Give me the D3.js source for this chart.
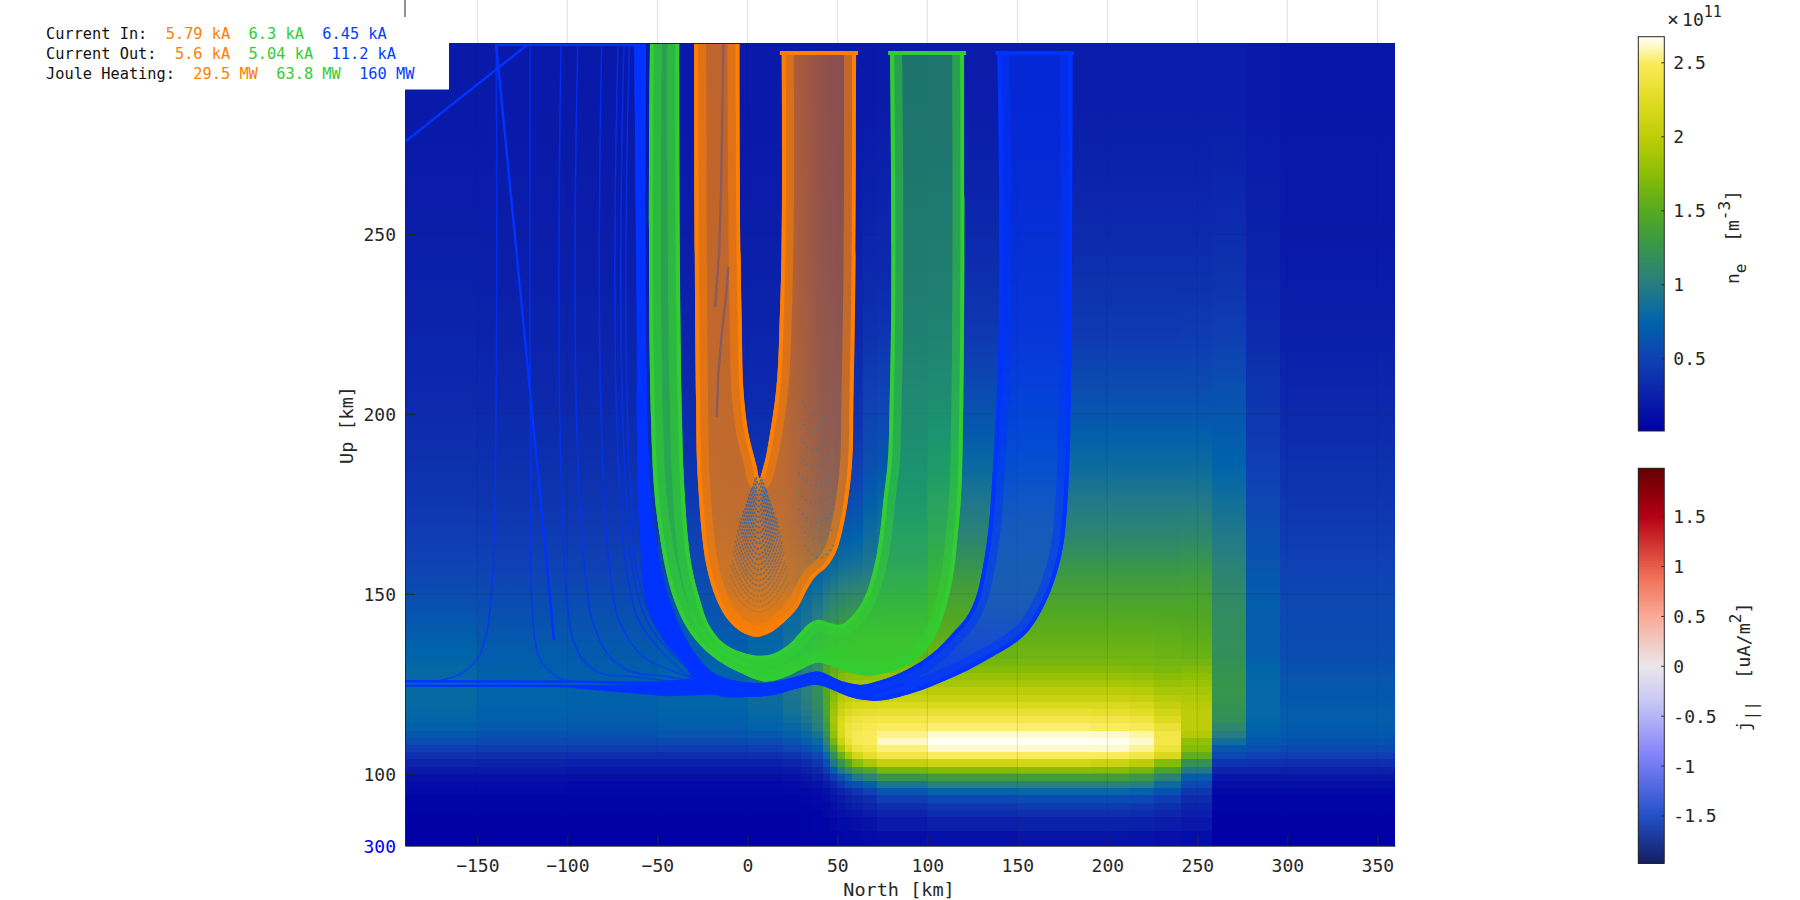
<!DOCTYPE html>
<html><head><meta charset="utf-8">
<script src="https://d3js.org/d3.v7.min.js"></script>
<style>
html,body{margin:0;padding:0;background:#fff;overflow:hidden}
text{font-family:"DejaVu Sans Mono",monospace;fill:#262626}
</style></head><body><svg id="c" width="1800" height="900"></svg>
<script>
// ---------- tick labels / text ----------
const xTicks=[-150,-100,-50,0,50,100,150,200,250,300,350];
const yTicks=[100,150,200,250];
const neTicks=[0.5,1,1.5,2,2.5];
const jTicks=[-1.5,-1,-0.5,0,0.5,1,1.5];
const currentIn=["5.79 kA","6.3 kA","6.45 kA"];
const currentOut=["5.6 kA","5.04 kA","11.2 kA"];
const jouleHeating=["29.5 MW","63.8 MW","160 MW"];
// ---------- colour maps (value, colour) ----------
const neStops=[0.009,0.25,0.5,0.75,1,1.25,1.5,1.75,2,2.25,2.5,2.6,2.673];
const neColors=["#0000a5","#0b20aa","#0f41b4","#0064aa","#287d82","#37964b","#55aa1e","#8cbe05","#becd0a","#e1dc23","#faeb5a","#fef8c0","#fffff5"];
const jStops=[-1.98,-1.5,-0.9,-0.35,0,0.5,0.9,1.5,1.98];
const jColors=["#141e64","#2350c8","#8282fa","#c8c8f5","#ebe6eb","#faaa96","#f06e55","#b40014","#640000"];
// ---------- density grid: x edges (km), altitude edges (km), one array per x column ----------
const xEdges=[-190.2,-150,-100,-50,0,20,30,36,42,46,50,54,58,64,72,100,150,191,212,226,241,258,277,296,359.8];
const zEdges=[80,84,88,90,92,94,96,98,100,102,104,106,108,110,112,114,116,118,120,122,124,126,128,130,132,136,140,145,150,155,160,170,180,190,200,215,230,250,270,303];
const neColumns=[
[.02,.02,.03,.04,.05,.07,.09,.13,.2,.28,.38,.48,.58,.66,.72,.76,.78,.79,.8,.8,.8,.79,.78,.77,.75,.7,.66,.6,.56,.52,.47,.42,.38,.35,.31,.28,.25,.22,.2],
[.02,.02,.03,.04,.05,.07,.09,.13,.2,.27,.36,.46,.55,.62,.68,.71,.73,.74,.74,.74,.74,.73,.72,.71,.69,.66,.62,.58,.54,.5,.46,.41,.37,.34,.3,.27,.24,.22,.2],
[.02,.02,.03,.04,.05,.06,.08,.12,.18,.25,.35,.45,.55,.62,.67,.7,.72,.73,.73,.73,.73,.72,.71,.7,.68,.65,.62,.58,.54,.5,.46,.41,.37,.34,.3,.27,.24,.22,.2],
[.02,.02,.03,.04,.05,.06,.08,.12,.18,.25,.35,.46,.56,.64,.7,.73,.75,.76,.76,.76,.76,.75,.74,.73,.71,.68,.65,.62,.58,.54,.5,.44,.39,.35,.31,.28,.25,.22,.2],
[.02,.02,.03,.04,.05,.06,.08,.12,.18,.25,.36,.47,.58,.67,.73,.77,.8,.82,.82,.82,.82,.81,.8,.79,.78,.76,.72,.68,.64,.6,.54,.46,.4,.36,.32,.28,.25,.22,.2],
[.02,.02,.03,.04,.05,.07,.1,.14,.2,.28,.4,.52,.63,.72,.78,.83,.87,.9,.91,.92,.92,.92,.91,.9,.88,.85,.82,.76,.7,.64,.56,.47,.41,.37,.32,.28,.25,.22,.2],
[.03,.03,.04,.05,.06,.08,.12,.17,.25,.33,.45,.58,.7,.8,.86,.92,.97,1,1.02,1.03,1.03,1.02,1.02,1,.98,.95,.9,.84,.76,.68,.58,.48,.42,.37,.32,.28,.25,.22,.2],
[.03,.04,.05,.06,.07,.1,.15,.22,.32,.42,.55,.68,.8,.9,1,1.05,1.1,1.14,1.15,1.16,1.16,1.16,1.15,1.14,1.12,1.08,1,.92,.82,.72,.6,.5,.43,.38,.33,.29,.25,.22,.2],
[.04,.05,.07,.08,.1,.13,.2,.3,.45,.6,.78,.95,1.1,1.22,1.32,1.38,1.42,1.45,1.46,1.47,1.47,1.46,1.44,1.4,1.32,1.25,1.15,1.02,.9,.78,.65,.52,.45,.39,.34,.3,.26,.23,.2],
[.05,.07,.1,.12,.15,.2,.3,.45,.7,.95,1.2,1.45,1.65,1.78,1.85,1.88,1.85,1.8,1.75,1.7,1.65,1.6,1.55,1.5,1.42,1.32,1.2,1.08,.95,.82,.68,.55,.46,.4,.35,.3,.26,.23,.2],
[.06,.09,.13,.16,.2,.28,.42,.62,.95,1.25,1.6,1.9,2.1,2.2,2.22,2.2,2.12,2.05,1.95,1.85,1.78,1.7,1.62,1.55,1.47,1.37,1.25,1.12,1,.86,.7,.56,.47,.4,.35,.3,.26,.23,.2],
[.07,.1,.16,.2,.26,.35,.52,.78,1.15,1.5,1.9,2.2,2.35,2.4,2.38,2.32,2.22,2.12,2.02,1.92,1.82,1.74,1.66,1.58,1.5,1.4,1.28,1.15,1.02,.88,.72,.58,.48,.41,.35,.3,.26,.23,.2],
[.08,.12,.18,.24,.3,.42,.62,.95,1.35,1.75,2.15,2.38,2.46,2.46,2.42,2.38,2.28,2.16,2.05,1.95,1.85,1.76,1.68,1.6,1.52,1.42,1.3,1.17,1.04,.9,.74,.6,.49,.42,.36,.31,.27,.23,.2],
[.1,.14,.22,.28,.35,.5,.72,1.05,1.45,1.9,2.3,2.42,2.5,2.5,2.46,2.4,2.3,2.18,2.07,1.97,1.87,1.78,1.7,1.62,1.54,1.44,1.32,1.19,1.06,.94,.85,.72,.6,.54,.48,.38,.31,.26,.2],
[.12,.2,.28,.36,.48,.66,.92,1.25,1.65,2.05,2.42,2.53,2.61,2.55,2.5,2.42,2.32,2.2,2.08,1.98,1.88,1.8,1.72,1.64,1.56,1.46,1.34,1.22,1.1,1,.92,.78,.66,.58,.5,.4,.32,.27,.21],
[.14,.24,.34,.42,.56,.76,1.02,1.32,1.72,2.12,2.5,2.62,2.67,2.62,2.52,2.44,2.32,2.2,2.08,1.98,1.88,1.8,1.72,1.64,1.6,1.54,1.48,1.41,1.34,1.24,1.08,.95,.81,.68,.55,.43,.35,.28,.22],
[.16,.26,.36,.45,.58,.78,1.04,1.34,1.74,2.14,2.5,2.62,2.67,2.62,2.52,2.44,2.32,2.2,2.08,1.98,1.88,1.8,1.72,1.66,1.62,1.56,1.5,1.42,1.35,1.25,1.1,.97,.83,.7,.57,.44,.36,.29,.23],
[.16,.26,.36,.45,.58,.78,1.04,1.34,1.72,2.1,2.5,2.62,2.66,2.62,2.5,2.42,2.3,2.2,2.08,1.98,1.88,1.8,1.72,1.66,1.62,1.56,1.5,1.42,1.35,1.25,1.1,.97,.83,.7,.57,.44,.36,.29,.23],
[.15,.25,.34,.42,.55,.74,1,1.28,1.65,2,2.42,2.56,2.62,2.58,2.48,2.38,2.27,2.17,2.05,1.96,1.86,1.78,1.7,1.65,1.62,1.56,1.5,1.42,1.35,1.25,1.1,.97,.83,.7,.57,.44,.36,.29,.23],
[.13,.22,.3,.36,.46,.62,.82,1.05,1.4,1.72,2.2,2.36,2.42,2.42,2.34,2.22,2.13,2.05,1.96,1.88,1.8,1.73,1.67,1.64,1.6,1.55,1.49,1.42,1.35,1.25,1.1,.97,.83,.7,.57,.44,.36,.29,.23],
[.12,.18,.24,.28,.33,.42,.55,.7,.95,1.2,1.55,1.72,1.78,1.95,2,2,2,1.97,1.93,1.88,1.82,1.76,1.7,1.64,1.58,1.53,1.48,1.42,1.36,1.27,1.12,.97,.83,.7,.57,.45,.36,.29,.23],
[.02,.02,.03,.04,.05,.08,.12,.18,.28,.4,.55,.65,.85,1,1.1,1.18,1.2,1.22,1.24,1.25,1.24,1.23,1.22,1.2,1.18,1.17,1.16,1.13,1.1,1.05,.97,.87,.75,.68,.6,.47,.38,.3,.23],
[.02,.02,.03,.04,.05,.08,.12,.18,.28,.38,.5,.6,.66,.72,.75,.77,.78,.78,.78,.78,.78,.77,.76,.73,.7,.7,.7,.69,.67,.64,.59,.54,.49,.43,.4,.33,.27,.24,.2],
[.02,.02,.03,.04,.05,.08,.12,.18,.26,.36,.48,.56,.62,.66,.68,.69,.69,.68,.67,.66,.65,.64,.62,.6,.58,.57,.56,.55,.53,.5,.46,.42,.38,.33,.29,.24,.21,.2,.18]
];
const smoothFromRow=24; // rows above this one are drawn as a continuous shading
// ---------- flux-tube outlines [north km, up km] ----------
const orangeOuter=[[-29.6,302.8],[-28.5,203.9],[-27.9,185.3],[-26.8,176.1],[-25.3,166.9],[-22.6,157.5],[-17,148.3],[-10.7,142.8],[-2.4,139.2],[5.9,138.1],[12.6,139.2],[19.8,141.9],[28.2,146.4],[33,151.1],[37.6,154.7],[44.1,157.5],[49.7,162.2],[52.4,166.9],[55.9,176.1],[58,185.3],[58.9,203.9],[59.8,229.7],[60.4,300.3]];
const orangeInner=[[-4.4,302.8],[-3.7,241.9],[-3.1,224.2],[-1.8,204],[.55,194.7],[5.2,185.3],[6.7,182.1],[8.9,185.3],[12.6,194.7],[15.4,203.9],[18.2,229.7],[19.3,266.9],[19.1,300.3]];
const greenOuter=[[-54.1,302.8],[-53.5,198.3],[-52.6,185.3],[-51.3,176.1],[-48.9,166.9],[-45.7,157.5],[-40.7,148.3],[-31.8,139.2],[-19.1,132.5],[-4.1,128.1],[10.8,125.6],[21.9,127],[33,129.8],[39.3,130.9],[47.6,129.8],[57.1,128.1],[66.3,127.2],[77.4,128.1],[94.1,131.7],[103.2,137.2],[108.7,143.7],[113.6,153.1],[117,166.9],[118.6,176.1],[119.7,194.7],[120,203.9],[120.4,300.3]];
const greenInner=[[-37.8,302.8],[-36.3,198.3],[-35.6,185.3],[-34.6,176.1],[-33.3,166.9],[-30.9,157.5],[-26.3,148.3],[-20.7,140.8],[-13.5,136.4],[-2.4,133.6],[5.2,132.8],[12.6,133.1],[21.9,135.4],[29.3,139.2],[34.8,141.9],[39.3,142.8],[45.9,141.9],[51.5,141.4],[58,143.7],[64.4,148.3],[70.4,157.5],[73.7,166.9],[75.6,176.1],[77.8,185.3],[79.1,203.9],[79.3,300.3]];
const blueOuter=[[-62.9,302.8],[-61.4,220.6],[-61.3,192.8],[-59.6,165],[-55.2,146.4],[-46.8,137.2],[-37.4,131.7],[-29,126],[-18,122],[-.3,121.3],[14.3,121.9],[29.3,123.9],[38.6,124.7],[47.6,123.3],[58.7,121.1],[69.8,120.3],[92.1,122.5],[110.8,126.1],[133,131.7],[155.2,139.2],[166.3,148.3],[172,156],[175.3,163],[177.3,172],[178.8,185.3],[179.6,203.9],[180.6,300.3]];
const blueInner=[[-56.3,302.8],[-56.3,220.6],[-55.2,192.8],[-53.1,174.2],[-47.6,155.8],[-42,146.4],[-33.7,137.2],[-26.3,131.7],[-19.1,128.1],[-4.1,125.6],[10.8,125.3],[27.4,127],[38.6,128.4],[53.2,125.6],[64.3,124.7],[71.9,125.6],[88.6,128.9],[103.2,133.6],[114.3,139.2],[121.9,143.6],[126.5,148.3],[130.9,157.5],[133.7,166.9],[136.5,185.3],[138.6,203.9],[138.9,300.3]];
// solid wedge where the blue field lines merge on the left
const blueTail=[[-100.7,124],[-60,124.9],[-30,126.6],[-14,122],[-44.8,121.5],[-74.6,122.8]];
// ---------- individual thin blue field lines ----------
const thinLines=[
[[-139.6,302.8],[-139.8,192.8],[-140.7,165],[-142.9,146.4],[-145.7,137.2],[-150.3,131.7],[-158,128.1],[-169,126.1],[-190.2,125.6]],
[[-120.7,302.8],[-120.3,174.2],[-119.6,146.4],[-118,137.2],[-115.2,131.7],[-105.9,127],[-81.8,125.3],[-40,124.9]],
[[-103.5,302.8],[-102.8,174.2],[-99.8,146.4],[-96.8,137.2],[-91.3,131.7],[-83.7,128.4],[-63.5,127],[-35.7,125.3]],
[[-94.2,302.8],[-92.9,174.2],[-90.2,155.8],[-85.6,141.9],[-76.3,132.5],[-67,128.9],[-44.8,127],[-26.3,125.3]],
[[-80.9,302.8],[-79.1,174.2],[-76.3,155.8],[-70.7,141.9],[-57.9,132.5],[-39.2,128.1],[-26.3,126.1]],
[[-71.8,302.8],[-70.2,174.2],[-67,155.8],[-59.6,141.9],[-44.8,132.5],[-30.2,126.1]],
[[-68.5,302.8],[-66.8,174.2],[-63.5,155.8],[-55.2,141.9],[-40.2,132.5],[-26.3,126.9]],
[[-65.5,302.8],[-64.2,174.2],[-61,155.8],[-52,141.9],[-37,132.5],[-24,127]]
];
const boldLines=[
[[-190.2,275.6],[-121.7,302.8]],
[[-139.6,302.8],[-123.5,220.6],[-107.4,137.2]],
[[-139.6,302.6],[-56.3,302.6]],
[[-190.2,125.7],[-100,125.6],[-40,125.2]],
[[-190.2,124.5],[-100,124.4],[-40,124.2]]
];
// ---------- darker streaks in the orange left leg ----------
const orangeStreaks=[
[[-13.3,302.8],[-14.6,262],[-15.7,244.7],[-17.9,229.7]],
[[-10.6,240.8],[-11.8,232.5],[-14.2,222.5],[-16.1,211.4],[-17,199.2]]
];
// ---------- gaps between orange field lines below the tip ----------
const arcBottoms=[180.4,178.8,177.3,175.8,174.3,172.8,171.3,169.9,168.4,166.9,165.4,164,162.5,161,159.6,158.1,156.7,155.2,153.7,152.3,150.8,149.3,147.9,146.4,145];
const arcWidths=[1.5,2.2,2.8,3.4,4,4.6,5.2,5.8,6.4,7,7.7,8.4,9,9.7,10.4,11,11.7,12.4,13,13.6,14.2,14.8,15.4,16,16.6];
const arcRises=[2,3,3.5,4,5,6,6.5,7,7.5,8,8.5,9,9.5,10,10.5,11,11,11,11,11,11,10,10,9,8];
const arcShapeU=[-1,-.8,-.6,-.4,-.2,0,.2,.4,.6,.8,1];
const arcShapeV=[1,.64,.36,.16,.04,0,.04,.16,.36,.64,1];
const arcOpacity=[.9,.9,.9,.9,.9,.9,.9,.9,.9,.9,.9,.85,.8,.75,.7,.65,.6,.55,.5,.45,.4,.35,.3,.25,.2];
const dotBottoms=[200,195,190,185,180,175,170,165,160];
const dotCentres=[36,36,36.5,37,37.5,38,38.5,39,40];
const dotWidths=[5,6,7,8,9,10,10,9,8];

// ---------- scales ----------
const svg=d3.select("#c");
const x=d3.scaleLinear().domain([-190.2,359.8]).range([405,1395]);
const z=d3.scaleLinear().domain([80,302.8]).range([845.7,44]);
const neColor=d3.scaleLinear().domain(neStops).range(neColors);
const jColor=d3.scaleLinear().domain(jStops).range(jColors);
const defs=svg.append("defs");
defs.append("clipPath").attr("id","plot").append("rect").attr("x",405).attr("y",44).attr("width",990).attr("height",801.7);

// ---------- heat map ----------
const heat=svg.append("g").attr("shape-rendering","crispEdges");
const zTop=zEdges[zEdges.length-1],zMid=zEdges[smoothFromRow];
neColumns.forEach((col,i)=>{
  heat.selectAll(null).data(col.slice(0,smoothFromRow)).enter().append("rect")
    .attr("x",x(xEdges[i])).attr("width",x(xEdges[i+1])-x(xEdges[i]))
    .attr("y",(d,j)=>z(zEdges[j+1])).attr("height",(d,j)=>z(zEdges[j])-z(zEdges[j+1]))
    .attr("fill",d=>neColor(d));
  const g=defs.append("linearGradient").attr("id","col"+i).attr("gradientUnits","userSpaceOnUse")
    .attr("x1",0).attr("x2",0).attr("y1",z(zMid)).attr("y2",z(zTop));
  col.slice(smoothFromRow).forEach((v,k)=>{
    const m=(zEdges[smoothFromRow+k]+zEdges[smoothFromRow+k+1])/2;
    g.append("stop").attr("offset",(m-zMid)/(zTop-zMid)).attr("stop-color",neColor(v));
  });
  heat.append("rect").attr("x",x(xEdges[i])).attr("width",x(xEdges[i+1])-x(xEdges[i]))
    .attr("y",z(zTop)).attr("height",z(zMid)-z(zTop)).attr("fill","url(#col"+i+")");
});
// grid
const grid=svg.append("g").attr("stroke","#262626").attr("stroke-opacity",.15);
grid.selectAll(null).data(xTicks).enter().append("line").attr("x1",d=>x(d)).attr("x2",d=>x(d)).attr("y1",0).attr("y2",845.7);
grid.selectAll(null).data(yTicks).enter().append("line").attr("x1",405).attr("x2",1395).attr("y1",d=>z(d)).attr("y2",d=>z(d));

// ---------- flux tubes ----------
const line=d3.line().x(d=>x(d[0])).y(d=>z(d[1])).curve(d3.curveCatmullRom.alpha(1));
const straight=d3.line().x(d=>x(d[0])).y(d=>z(d[1]));
const plot=svg.append("g").attr("clip-path","url(#plot)");
function grad(id,x1,y1,x2,y2,color,stops){
  const g=defs.append("linearGradient").attr("id",id).attr("gradientUnits","userSpaceOnUse")
    .attr("x1",x1).attr("y1",y1).attr("x2",x2).attr("y2",y2);
  stops.forEach(s=>g.append("stop").attr("offset",s[0]).attr("stop-color",color).attr("stop-opacity",s[1]));
}
function tube(name,color,outer,inner,hStops,vStops,hRange,vRange){
  const poly=line(outer)+"L"+line(inner.slice().reverse()).slice(1)+"Z";
  defs.append("clipPath").attr("id","clip-"+name).append("path").attr("d",poly);
  const g=plot.append("g").attr("clip-path","url(#clip-"+name+")");
  g.append("path").attr("d",poly).attr("fill",color).attr("fill-opacity",.5);
  grad("h-"+name,x(hRange[0]),0,x(hRange[1]),0,color,hStops);
  grad("v-"+name,0,z(vRange[0]),0,z(vRange[1]),color,vStops);
  g.append("path").attr("d",poly).attr("fill","url(#h-"+name+")");
  g.append("path").attr("d",poly).attr("fill","url(#v-"+name+")");
  [outer,inner].forEach(p=>{
    g.append("path").attr("d",line(p)).attr("fill","none").attr("stroke",color).attr("stroke-opacity",.5).attr("stroke-width",24);
    g.append("path").attr("d",line(p)).attr("fill","none").attr("stroke",color).attr("stroke-width",8);
  });
  const a=inner[inner.length-1],b=outer[outer.length-1];
  plot.append("path").attr("d",straight([a,b])).attr("stroke",color).attr("stroke-width",4).attr("stroke-linecap","square");
}
const cBlue="#0033ff",cGreen="#32cd32",cOrange="#ff7f00";
plot.selectAll(null).data(thinLines).enter().append("path").attr("d",line).attr("fill","none").attr("stroke",cBlue).attr("stroke-width",1.5).attr("stroke-opacity",.75);
plot.selectAll(null).data(boldLines).enter().append("path").attr("d",straight).attr("fill","none").attr("stroke",cBlue).attr("stroke-width",2.4);
plot.append("path").attr("d",straight(blueTail)+"Z").attr("fill",cBlue);
tube("blue",cBlue,blueOuter,blueInner,
  [[0,1],[.45,1],[.6,0],[1,0]],[[0,0],[.5,.3],[1,.85]],[-70,60],[170,125]);
tube("green",cGreen,greenOuter,greenInner,
  [[0,.5],[.6,.5],[1,0]],[[0,0],[.55,.25],[1,.8]],[-55,80],[160,128]);
tube("orange",cOrange,orangeOuter,orangeInner,
  [[0,.5],[.55,.45],[.8,.1],[1,0]],[[0,0],[.6,.2],[1,.7]],[-30,60],[170,140]);
plot.selectAll(null).data(orangeStreaks).enter().append("path").attr("d",straight).attr("fill","none").attr("stroke","#8a5c5c").attr("stroke-width",2.4);
const arcs=plot.append("g").attr("fill","none").attr("stroke","#2a68b0").attr("stroke-width",1.5).attr("stroke-dasharray","2.5 1.2");
arcBottoms.forEach((b,i)=>{
  const pts=arcShapeU.map((u,k)=>[6.3+u*arcWidths[i],b+arcRises[i]*arcShapeV[k]]);
  arcs.append("path").attr("d",line(pts)).attr("stroke-opacity",arcOpacity[i]);
});
const dots=plot.append("g").attr("fill","none").attr("stroke","#2a80a0").attr("stroke-width",1.5).attr("stroke-dasharray","1.5 4").attr("stroke-opacity",.8);
dotBottoms.forEach((b,i)=>{
  const pts=arcShapeU.map((u,k)=>[dotCentres[i]+u*dotWidths[i],b+3.5*arcShapeV[k]]);
  dots.append("path").attr("d",line(pts));
});

// ---------- axes ----------
const axX=svg.append("g").attr("transform","translate(0,845.7)")
  .call(d3.axisBottom(x).tickValues(xTicks).tickFormat(d3.format("d")).tickSizeInner(-10).tickSizeOuter(0).tickPadding(13.5));
const axY=svg.append("g").attr("transform","translate(405,0)")
  .call(d3.axisLeft(z).tickValues(yTicks).tickFormat(d3.format("d")).tickSizeInner(-10).tickSizeOuter(0).tickPadding(9));
[axX,axY].forEach(a=>{a.selectAll("text").attr("font-size",18).attr("font-family","DejaVu Sans Mono").attr("fill","#262626");a.selectAll("line,path").attr("stroke","#262626");});
axY.selectAll("text").attr("dy",".36em");
svg.append("line").attr("x1",405).attr("x2",405).attr("y1",0).attr("y2",44).attr("stroke","#262626");
svg.append("text").attr("x",396).attr("y",z(80)).attr("dy",".4em").attr("text-anchor","end").attr("font-size",18).style("fill","#0000ff").text("300");
svg.append("text").attr("transform","translate(899,896)").attr("text-anchor","middle").attr("font-size",18.5).text("North [km]");
svg.append("text").attr("transform","translate(353,425) rotate(-90)").attr("text-anchor","middle").attr("font-size",18.5).text("Up [km]");

// ---------- legend ----------
svg.append("rect").attr("x",0).attr("y",17).attr("width",449).attr("height",72.5).attr("fill","#fff");
const legend=[["Current In:",currentIn,39],["Current Out:",currentOut,59],["Joule Heating:",jouleHeating,79]];
const colors=["#ff8000","#33cc33","#0040ff"];
legend.forEach(([label,vals,yy])=>{
  const t=svg.append("text").attr("x",46).attr("y",yy).attr("font-size",15.3).attr("xml:space","preserve").style("white-space","pre");
  t.append("tspan").style("fill","#111").text(label);
  vals.forEach((v,i)=>t.append("tspan").style("fill",colors[i]).text("  "+v));
});

// ---------- colour bars ----------
function colorbar(x0,y0,y1,dom,scale,ticks){
  const w=26,s=d3.scaleLinear().domain(dom).range([y1,y0]);
  const g=svg.append("g");
  const levels=d3.range(0,256).map(i=>dom[0]+(dom[1]-dom[0])*(i+.5)/256);
  const h=(y1-y0)/256;
  g.append("g").attr("shape-rendering","crispEdges").selectAll("rect").data(levels).enter().append("rect")
    .attr("x",x0).attr("width",w).attr("y",d=>s(d)-h/2-.3).attr("height",h+.6).attr("fill",d=>scale(d));
  g.append("rect").attr("x",x0).attr("y",y0).attr("width",w).attr("height",y1-y0).attr("fill","none").attr("stroke","#262626");
  const a=g.append("g").attr("transform","translate("+(x0+w)+",0)").call(d3.axisRight(s).tickValues(ticks).tickFormat(d=>String(d)).tickSizeInner(-3).tickSizeOuter(0).tickPadding(9));
  a.select(".domain").remove();
  a.selectAll("line").attr("stroke","#262626");
  a.selectAll("text").attr("font-size",18).attr("font-family","DejaVu Sans Mono").attr("fill","#262626").attr("dy",".36em");
}
colorbar(1638.3,36.7,431,[0.009,2.673],neColor,neTicks);
colorbar(1638.3,468.3,863.3,[-1.98,1.98],jColor,jTicks);
const ex=svg.append("text").attr("x",1667).attr("y",26).attr("font-size",18);
ex.append("tspan").attr("font-size",20).text("×");
ex.append("tspan").attr("dx",3).text("10");
ex.append("tspan").attr("dy",-9).attr("font-size",15).text("11");
const nl=svg.append("text").attr("transform","translate(1739,237) rotate(-90)").attr("text-anchor","middle").attr("font-size",18).style("white-space","pre");
nl.append("tspan").text("n");
nl.append("tspan").attr("dy",7).attr("font-size",16).text("e");
nl.append("tspan").attr("dy",-7).text("  [m");
nl.append("tspan").attr("dy",-9).attr("font-size",16).text("-3");
nl.append("tspan").attr("dy",9).text("]");
const jl=svg.append("text").attr("transform","translate(1750,667) rotate(-90)").attr("text-anchor","middle").attr("font-size",18.5).style("white-space","pre");
jl.append("tspan").text("j");
jl.append("tspan").attr("dy",7).attr("font-size",16).text("||");
jl.append("tspan").attr("dy",-7).text("  [uA/m");
jl.append("tspan").attr("dy",-9).attr("font-size",16).text("2");
jl.append("tspan").attr("dy",9).text("]");
</script></body></html>
